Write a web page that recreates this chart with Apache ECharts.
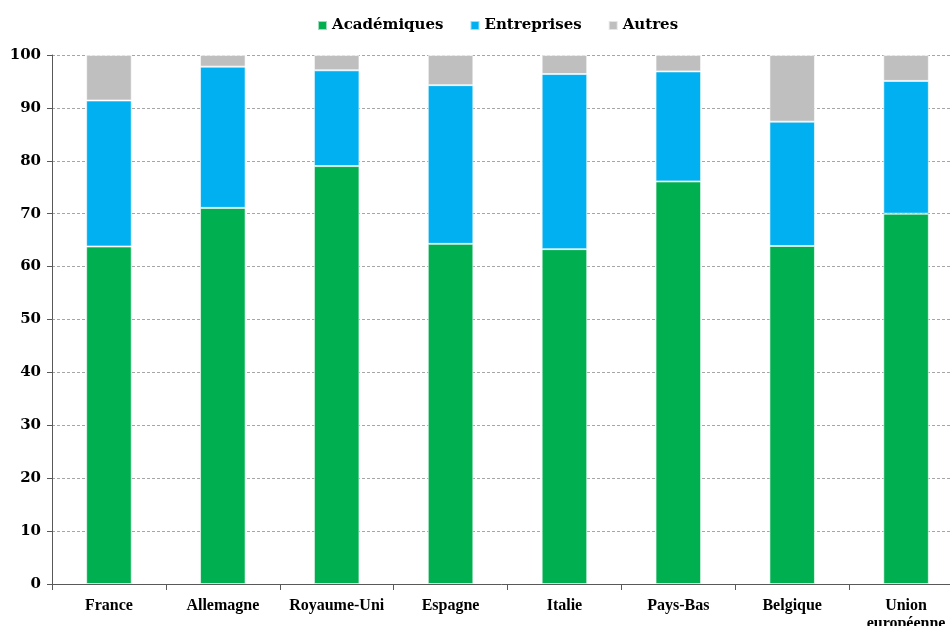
<!DOCTYPE html>
<html>
<head>
<meta charset="utf-8">
<script src="https://cdn.jsdelivr.net/npm/echarts@6/dist/echarts.min.js"></script>
<style>
  html, body { margin: 0; padding: 0; background: #fff; }
  #chart { width: 950px; height: 626px; }
</style>
</head>
<body>
<div id="chart"></div>
<script>
var categories = ['France', 'Allemagne', 'Royaume-Uni', 'Espagne', 'Italie', 'Pays-Bas', 'Belgique', 'Union\neuropéenne']
var academiques = [63.8, 71.1, 79.0, 64.3, 63.3, 76.1, 63.9, 70.0]
var entreprises = [27.6, 26.7, 18.1, 30.0, 33.1, 20.8, 23.5, 25.1]
var autres = [8.6, 2.2, 2.9, 5.7, 3.6, 3.1, 12.6, 4.9]

var chart = echarts.init(document.getElementById('chart'))

function bar(name, data, color) {
    return {
        name: name,
        type: 'bar',
        stack: 'total',
        barWidth: '40%',
        data: data,
        itemStyle: { color: color, borderColor: 'rgba(255,255,255,0.6)', borderWidth: 1 }
    }
}

var option = {
    animation: false,
    legend: {
        top: 13,
        left: 312,
        icon: 'rect',
        itemWidth: 9,
        itemHeight: 9,
        itemGap: 26,
        textStyle: { fontFamily: 'DejaVu Serif', fontWeight: 'bold', fontSize: 15, color: '#000' }
    },
    // the plot runs past the right edge of the picture, as in the source
    grid: { left: 52, top: 55, right: -13, bottom: 42, outerBoundsMode: 'none', containLabel: false },
    xAxis: {
        type: 'category',
        data: categories,
        axisLine: { lineStyle: { color: '#595959' } },
        axisTick: { show: true, length: 6, lineStyle: { color: '#595959' } },
        axisLabel: {
            margin: 13,
            interval: 0,
            fontFamily: 'Liberation Serif',
            fontWeight: 'bold',
            fontSize: 16,
            color: '#000',
            lineHeight: 18
        }
    },
    yAxis: {
        type: 'value',
        min: 0,
        max: 100,
        interval: 10,
        axisLine: { show: true, lineStyle: { color: '#595959' } },
        axisTick: { show: true, length: 5, lineStyle: { color: '#595959' } },
        axisLabel: {
            margin: 11,
            fontFamily: 'DejaVu Serif',
            fontWeight: 'bold',
            fontSize: 15,
            color: '#000'
        },
        splitLine: { lineStyle: { color: '#a6a6a6', type: [3, 2] } }
    },
    series: [
        bar('Académiques', academiques, '#00B050'),
        bar('Entreprises', entreprises, '#00B0F0'),
        bar('Autres', autres, '#BFBFBF')
    ]
}
chart.setOption(option)
</script>
</body>
</html>
